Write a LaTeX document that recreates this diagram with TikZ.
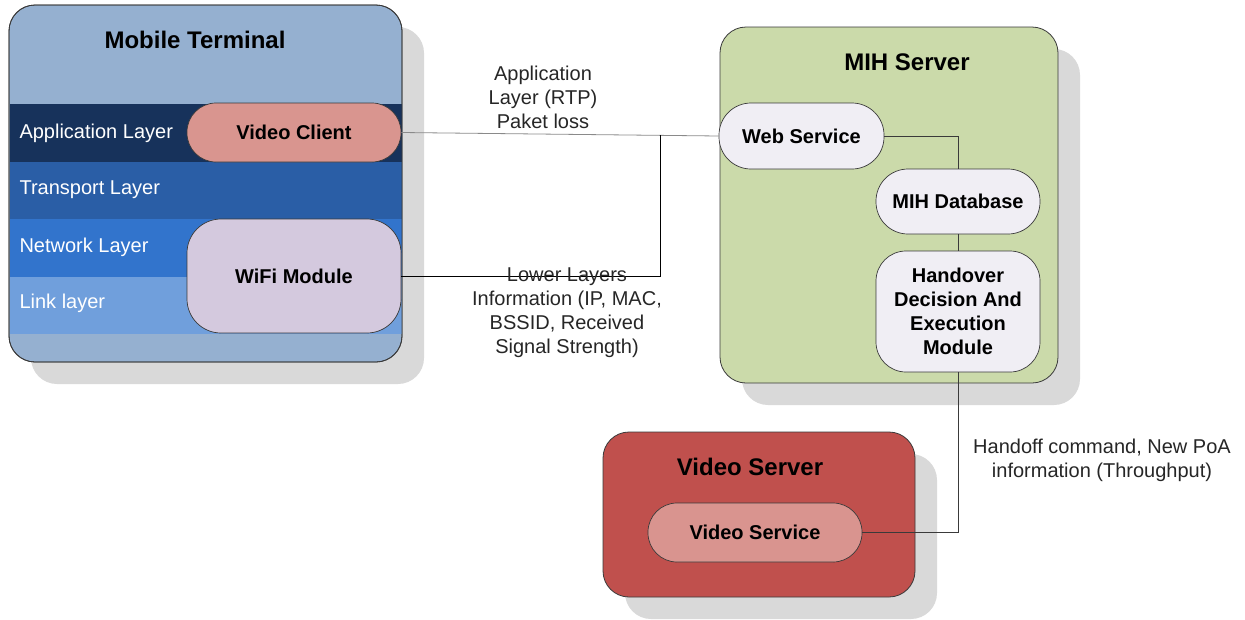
\documentclass[tikz,border=0pt]{standalone}
\usepackage{fontspec}
\setmainfont{Liberation Sans}
\usetikzlibrary{calc}
\definecolor{shadowgray}{HTML}{D9D9D9}
\definecolor{edgegray}{HTML}{3A3A3A}
\definecolor{linegray}{HTML}{8A8A8A}
\definecolor{mtfill}{HTML}{95B0D0}
\definecolor{appband}{HTML}{17325B}
\definecolor{transband}{HTML}{2A5EA6}
\definecolor{netband}{HTML}{3274CC}
\definecolor{linkband}{HTML}{709FDC}
\definecolor{clientfill}{HTML}{D9958F}
\definecolor{wififill}{HTML}{D4C9DE}
\definecolor{mihfill}{HTML}{CBDAAA}
\definecolor{modfill}{HTML}{F0EEF4}
\definecolor{vsrvfill}{HTML}{C0504D}
\definecolor{vsvcfill}{HTML}{D9948F}

\begin{document}
\begin{tikzpicture}[x=1pt, y=-1pt,
    shadowbox/.style={fill=shadowgray, rounded corners=26pt, inner sep=0pt},
    container/.style={draw=edgegray, line width=0.8pt, rounded corners=26pt, inner sep=0pt},
    band/.style={minimum width=392pt, minimum height=57.5pt, inner sep=0pt},
    module/.style={draw=edgegray, line width=0.7pt, fill=modfill, inner sep=0pt,
                   font=\fontsize{20}{24}\selectfont\bfseries, align=center},
    title/.style={font=\fontsize{24}{28}\selectfont\bfseries},
    layer/.style={anchor=west, text=white, font=\fontsize{20}{24}\selectfont},
    lbl/.style={font=\fontsize{20}{24}\selectfont, align=center, text=black!85},
    link/.style={draw=edgegray, line width=0.8pt}
]
  \useasboundingbox (0,0) rectangle (1245,619);
  % Shadows
  \node[shadowbox, minimum width=393pt, minimum height=357pt] (mtshadow) at (227.5,205.5) {};
  \node[shadowbox, minimum width=338pt, minimum height=356pt] (mihshadow) at (911,227) {};
  \node[shadowbox, minimum width=312pt, minimum height=165pt] (vsrvshadow) at (781,536.5) {};
  % Mobile terminal
  \node[container, fill=mtfill, minimum width=393pt, minimum height=357pt] (mt) at (205.5,183.5) {};
  \node[band, fill=appband] (bapp) at (205.5,132.75) {};
  \node[band, fill=transband] (btrans) at (205.5,190.25) {};
  \node[band, fill=netband] (bnet) at (205.5,247.75) {};
  \node[band, fill=linkband] (blink) at (205.5,305.25) {};
  \node[container, minimum width=393pt, minimum height=357pt] at (205.5,183.5) {};
  \node[title] (mttitle) at (195,40) {Mobile Terminal};
  \node[layer] (lapp) at (16,133) {Application Layer};
  \node[layer] (ltrans) at (16,190) {Transport Layer};
  \node[layer] (lnet) at (16,247) {Network Layer};
  \node[layer] (llink) at (16,303) {Link layer};
  \node[module, fill=clientfill, rounded corners=29pt, minimum width=214pt, minimum height=59pt] (vclient) at (294,132.5) {Video Client};
  \node[module, fill=wififill, rounded corners=34pt, minimum width=214pt, minimum height=114pt] (wifi) at (294,276) {WiFi Module};
  % MIH server
  \node[container, fill=mihfill, minimum width=338pt, minimum height=356pt] (mih) at (889,205) {};
  \node[title] (mihtitle) at (907,62) {MIH Server};
  \node[module, rounded corners=32pt, minimum width=165pt, minimum height=66pt] (websvc) at (801.5,136) {Web Service};
  \node[module, rounded corners=32pt, minimum width=164pt, minimum height=65pt] (mihdb) at (958,201.5) {MIH Database};
  \node[module, rounded corners=30pt, minimum width=164pt, minimum height=121pt] (hdem) at (958,311.5) {Handover\\Decision And\\Execution\\Module};
  % Video server
  \node[container, fill=vsrvfill, minimum width=312pt, minimum height=165pt] (vsrv) at (759,514.5) {};
  \node[title] (vsrvtitle) at (750,467) {Video Server};
  \node[module, fill=vsvcfill, rounded corners=29pt, minimum width=214pt, minimum height=59pt] (vservice) at (755,532.5) {Video Service};
  % Connectors
  \draw[link, draw=linegray] (vclient.east) -- (websvc.west);
  \coordinate (jn) at ($(vclient.east)!0.815!(websvc.west)$);
  \draw[link, draw=black] (wifi.east) -| (jn);
  \draw[link] (websvc.east) -| (mihdb.north);
  \draw[link] (mihdb.south) -- (hdem.north);
  \draw[link] (hdem.south) |- (vservice.east);
  % Labels
  \node[lbl] (applbl) at (543,97) {Application\\Layer (RTP)\\Paket loss};
  \node[lbl] (lowlbl) at (567,313) {Lower Layers\\Information (IP, MAC,\\BSSID, Received\\Signal Strength)};
  \node[lbl] (holbl) at (1102,460) {Handoff command, New PoA\\information (Throughput)};
\end{tikzpicture}
\end{document}
